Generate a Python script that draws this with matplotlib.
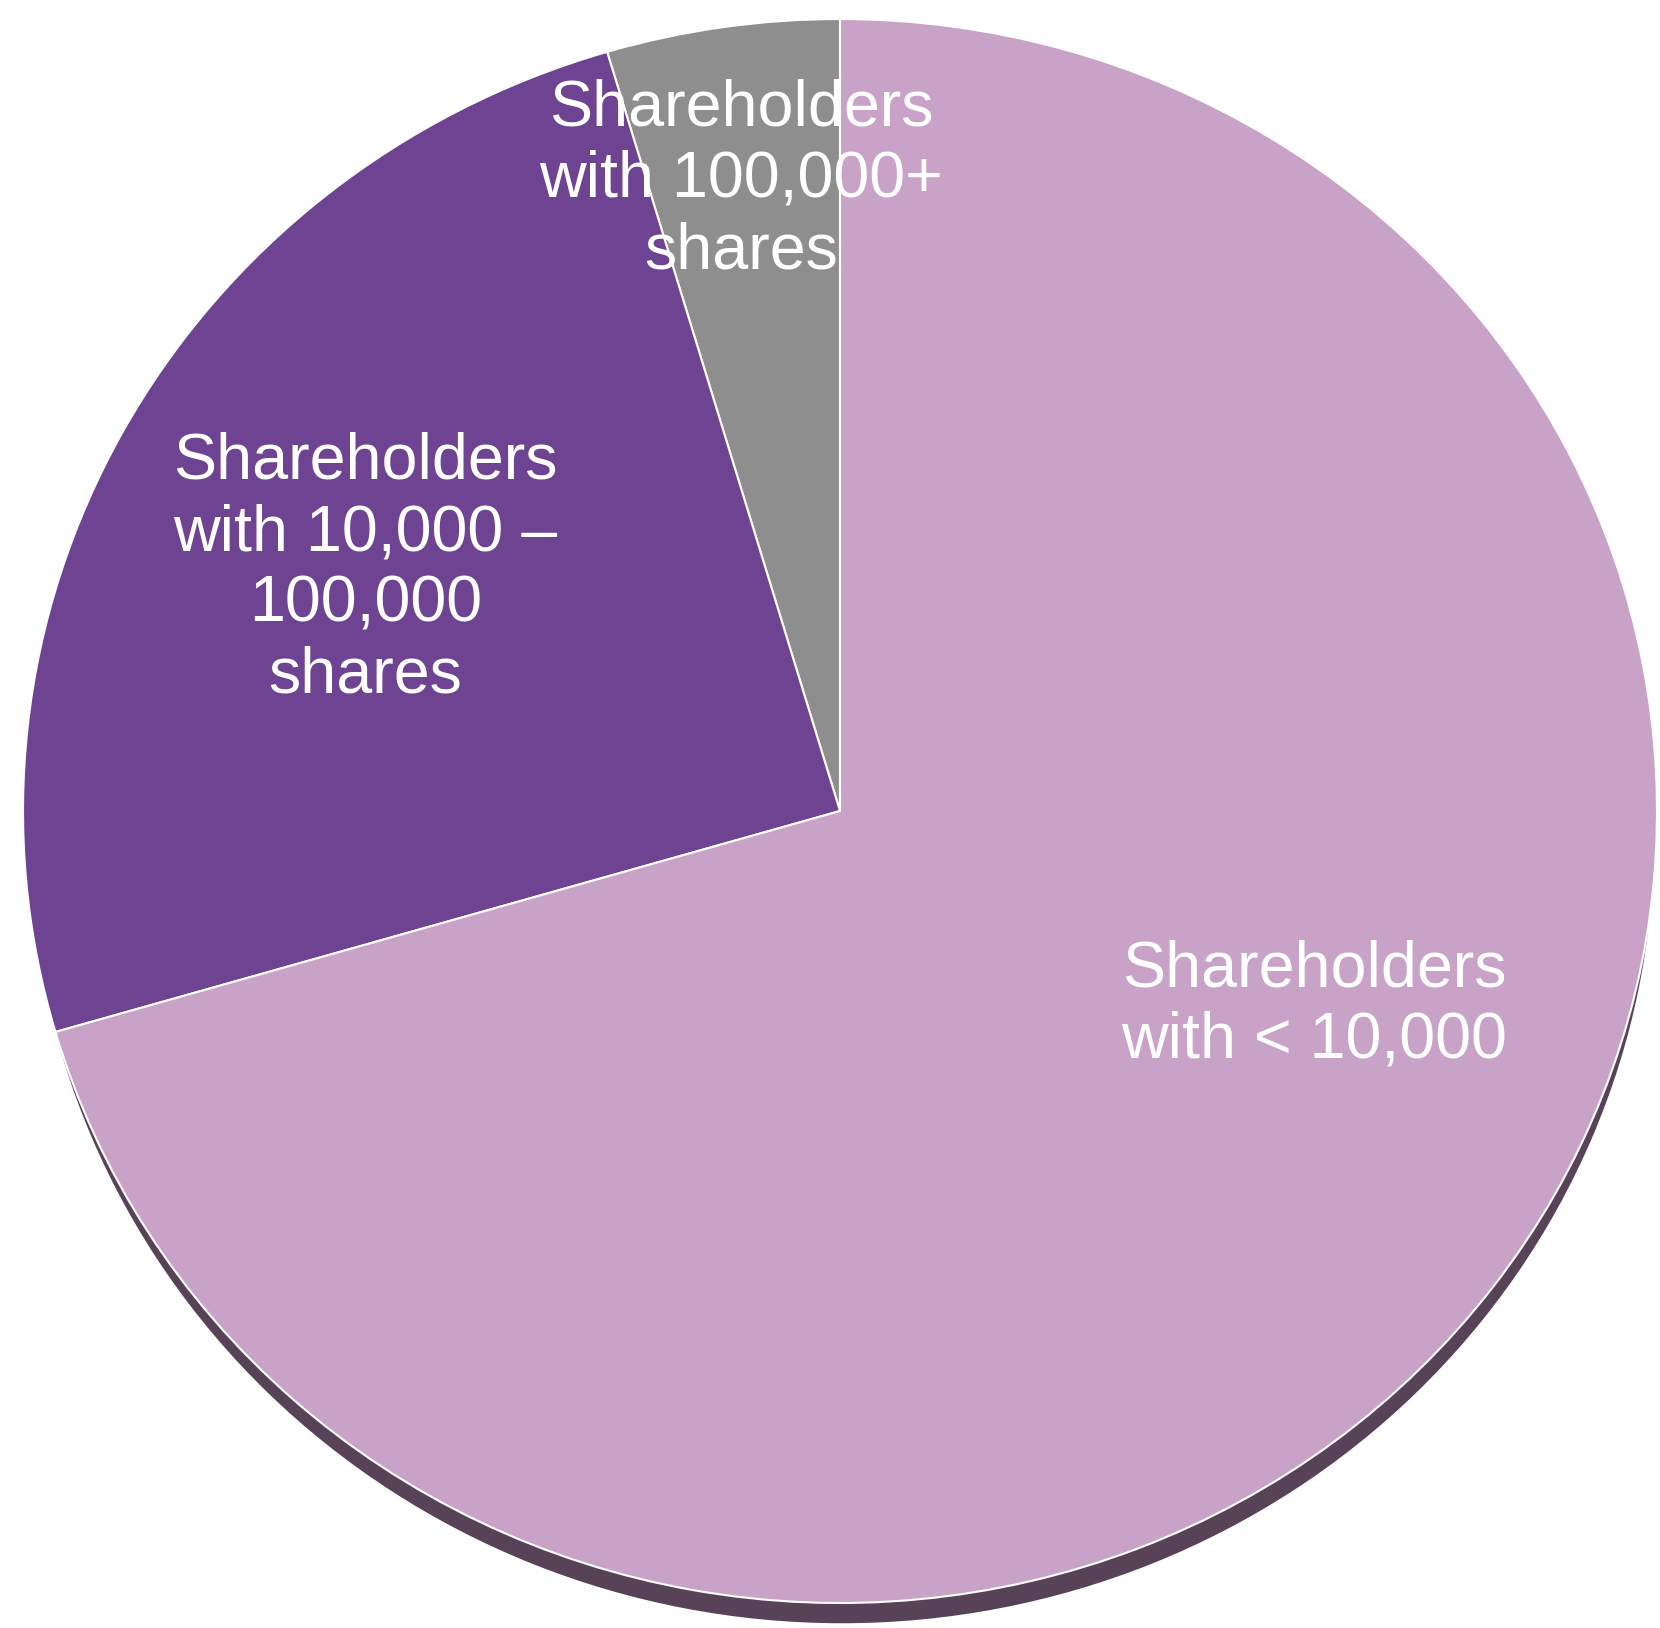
import matplotlib
matplotlib.use("Agg")
import matplotlib.pyplot as plt

# Data
labels = ["Shareholders\nwith 100,000+\nshares",
          "Shareholders\nwith 10,000 \u2013\n100,000\nshares",
          "Shareholders\nwith < 10,000"]
shares = [4.6, 24.9, 70.5]
colors = ["#8E8E8E", "#6E4392", "#C9A3C7"]

# label anchors (in pie radius units)
label_pos = [(-0.121, 0.797), (-0.581, 0.306), (0.580, -0.245)]

W, H = 1660, 1628
cx, cy = 840, 811      # pie centre, px from top-left
rx, ry = 817, 792      # semi-axes in px

fig = plt.figure(figsize=(W / 100, H / 100), dpi=100)
ax = fig.add_axes([0, 0, 1, 1])

# shadow under the pie (only shows along the lower rim)
ax.pie([sum(shares)], colors=["#574257"], radius=0.994,
       center=(2 / rx, -25 / ry), startangle=90, frame=True,
       wedgeprops=dict(linewidth=0))

wedges, _ = ax.pie(shares, colors=colors, radius=1.0, center=(0, 0),
                   startangle=90, counterclock=True, frame=True,
                   wedgeprops=dict(edgecolor="white", linewidth=1.5))

# stretch to the slightly oval shape of the original
ax.set_aspect("auto")
ax.set_xlim(-cx / rx, (W - cx) / rx)
ax.set_ylim(-(H - cy) / ry, cy / ry)
ax.axis("off")

for txt, (x, y) in zip(labels, label_pos):
    ax.text(x, y, txt, ha="center", va="center", multialignment="center",
            color="white", fontsize=46.5, family=["Liberation Sans", "DejaVu Sans"],
            linespacing=1.24)

fig.savefig("out.png", dpi=100)
